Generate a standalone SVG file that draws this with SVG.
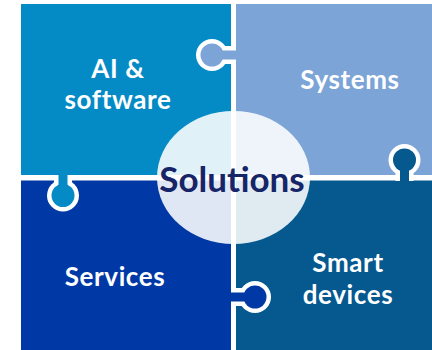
<svg xmlns="http://www.w3.org/2000/svg" width="432" height="350" viewBox="0 0 432 350">
<style>
.lbl{font-family:Lato,"Open Sans","Liberation Sans",sans-serif;font-weight:700;font-size:26px;letter-spacing:0.6px;fill:#fff;text-anchor:middle}
.main{font-family:Lato,"Open Sans","Liberation Sans",sans-serif;font-weight:700;font-size:35px;fill:#162468;text-anchor:middle}
.w{fill:#fff}
.tl{fill:#048BC6}.tr{fill:#7CA4D6}.bl{fill:#0038A6}.br{fill:#05598F}
</style>
<rect width="432" height="350" fill="#fff"/>
<g id="ai-software">
<rect class="tl" x="21" y="4" width="210" height="171"/>
</g>
<g id="systems">
<rect class="tr" x="236" y="4" width="196" height="171"/>
</g>
<g id="services">
<rect class="bl" x="21" y="180.5" width="210" height="170"/>
</g>
<g id="smart-devices">
<rect class="br" x="236" y="180.5" width="196" height="170"/>
</g>
<g id="tabs">
<circle class="w" cx="212" cy="55" r="16"/><rect class="w" x="212" y="46" width="24" height="18"/>
<circle class="tr" cx="212" cy="55" r="11.5"/><rect class="tr" x="212" y="50.5" width="28" height="9"/>
<circle class="w" cx="63" cy="195.5" r="16"/><rect class="w" x="54" y="175" width="18" height="20"/>
<circle class="tl" cx="63" cy="195.5" r="11.5"/><rect class="tl" x="58.5" y="171" width="9" height="25"/>
<circle class="w" cx="404.5" cy="160" r="16"/><rect class="w" x="395.5" y="160" width="18" height="21"/>
<circle class="br" cx="404.5" cy="160" r="11.5"/><rect class="br" x="400" y="160" width="9" height="25"/>
<circle class="w" cx="255" cy="297" r="16"/><rect class="w" x="231" y="288" width="24" height="18"/>
<circle class="bl" cx="255" cy="297" r="11.5"/><rect class="bl" x="227" y="292.5" width="28" height="9"/>
</g>
<g id="labels">
<text class="lbl" x="118" y="78">AI &amp;</text>
<text class="lbl" x="118" y="109">software</text>
<text class="lbl" x="350" y="89">Systems</text>
<text class="lbl" x="115" y="286">Services</text>
<text class="lbl" x="348" y="272">Smart</text>
<text class="lbl" x="348" y="304">devices</text>
</g>
<g id="solutions">
<ellipse cx="233.5" cy="177.5" rx="76.5" ry="66.5" fill="#fff" fill-opacity="0.88"/>
<text class="main" x="232" y="191.5">Solutions</text>
</g>
</svg>
